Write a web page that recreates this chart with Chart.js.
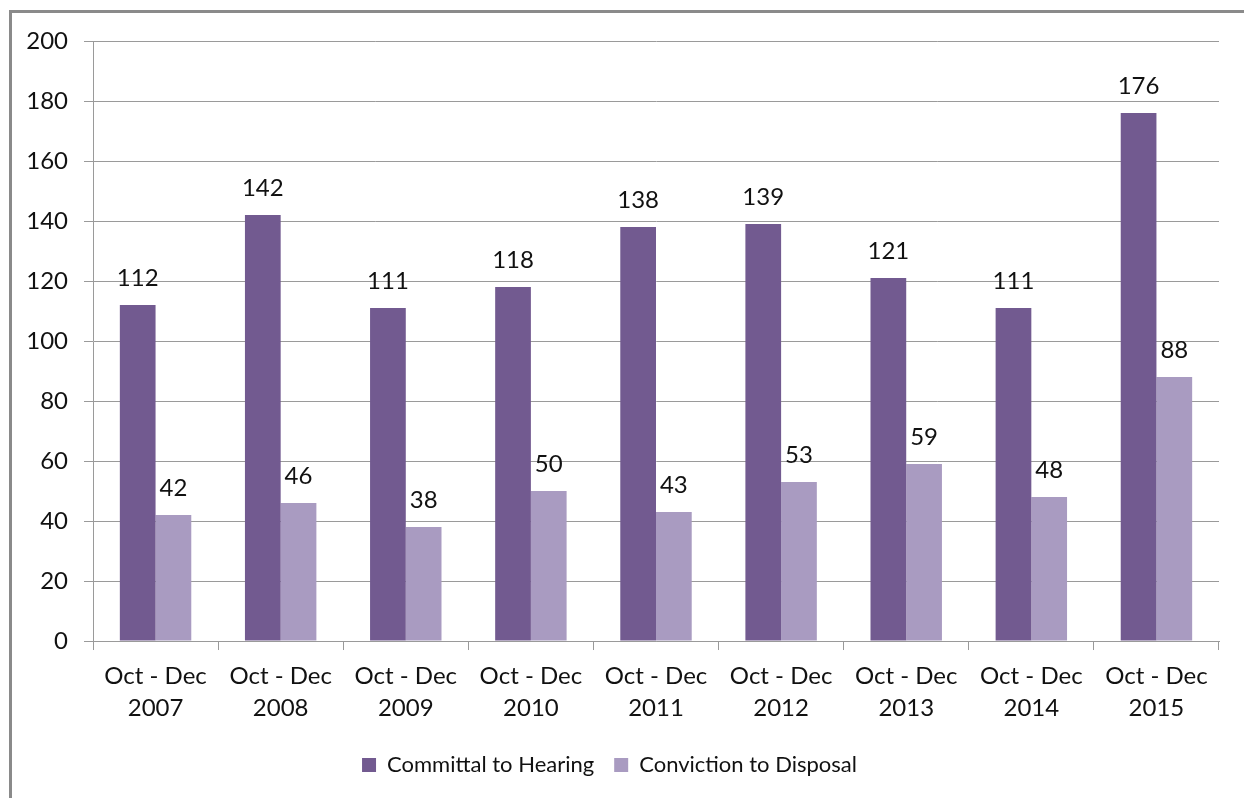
<!DOCTYPE html>
<html>
<head>
<meta charset="utf-8">
<script src="https://cdn.jsdelivr.net/npm/chart.js@4.4.0/dist/chart.umd.min.js"></script>
<style>
  html, body { margin: 0; padding: 0; background: #fff; overflow: hidden; }
  #wrap { position: absolute; left: 0; top: 0; width: 1244px; height: 798px; }
  #frame { position: absolute; left: 9px; top: 10px; width: 1400px; height: 900px;
           border: 3px solid #8a8a8a; pointer-events: none; }
</style>
</head>
<body>
<div id="wrap">
  <div id="frame"></div>
  <canvas id="bar-chart-offences" width="1244" height="798"></canvas>
</div>
<script>
// categories and series values
const periods = [
    ["Oct - Dec", "2007"], ["Oct - Dec", "2008"], ["Oct - Dec", "2009"],
    ["Oct - Dec", "2010"], ["Oct - Dec", "2011"], ["Oct - Dec", "2012"],
    ["Oct - Dec", "2013"], ["Oct - Dec", "2014"], ["Oct - Dec", "2015"]
];
const committalToHearing = [112, 142, 111, 118, 138, 139, 121, 111, 176];
const convictionToDisposal = [42, 46, 38, 50, 43, 53, 59, 48, 88];

const fontFamily = "Lato, 'Open Sans', sans-serif";
const gridColor = "#9a9a9a";

// draws the value above each bar
const barValueLabels = {
    id: "barValueLabels",
    afterDatasetsDraw(chart) {
        const ctx = chart.ctx;
        ctx.save();
        ctx.font = `24px ${fontFamily}`;
        ctx.fillStyle = "#111";
        ctx.textAlign = "center";
        ctx.textBaseline = "middle";
        chart.data.datasets.forEach((ds, i) => {
            chart.getDatasetMeta(i).data.forEach((bar, j) => {
                ctx.fillText(ds.data[j], bar.x, bar.y - 27);
            });
        });
        ctx.restore();
    }
};

Chart.defaults.font.family = fontFamily;
Chart.defaults.color = "#111";

const data = {
    labels: periods,
    datasets: [
        {
            label: "Committal to Hearing",
            data: committalToHearing,
            backgroundColor: "#725a90",
            borderWidth: 0,
            categoryPercentage: 0.571,
            barPercentage: 1.0
        },
        {
            label: "Conviction to Disposal",
            data: convictionToDisposal,
            backgroundColor: "#a99bc1",
            borderWidth: 0,
            categoryPercentage: 0.571,
            barPercentage: 1.0
        }
    ]
};

const config = {
    type: "bar",
    data: data,
    options: {
        responsive: false,
        animation: false,
        layout: { padding: { top: 41, right: 25, bottom: 12, left: 0 } },
        plugins: {
            tooltip: { enabled: false },
            legend: {
                position: "bottom",
                labels: {
                    boxWidth: 14,
                    boxHeight: 14,
                    padding: 20,
                    font: { size: 22 },
                    color: "#111"
                }
            }
        },
        scales: {
            x: {
                grid: {
                    offset: true,
                    drawOnChartArea: false,
                    drawTicks: true,
                    tickLength: 9,
                    color: gridColor
                },
                border: { display: true, color: gridColor },
                ticks: {
                    padding: 10,
                    maxRotation: 0,
                    autoSkip: false,
                    font: { size: 24, lineHeight: 1.333 },
                    color: "#111"
                }
            },
            y: {
                min: 0,
                max: 200,
                afterFit(scale) { scale.width = 93; },
                grid: {
                    color: gridColor,
                    tickLength: 9,
                    drawTicks: true
                },
                border: { display: true, color: gridColor },
                ticks: {
                    stepSize: 20,
                    padding: 16,
                    font: { size: 24 },
                    color: "#111"
                }
            }
        }
    },
    plugins: [barValueLabels]
};

const ctx = document.getElementById("bar-chart-offences").getContext("2d");
window.myBar = new Chart(ctx, config);
</script>
</body>
</html>
